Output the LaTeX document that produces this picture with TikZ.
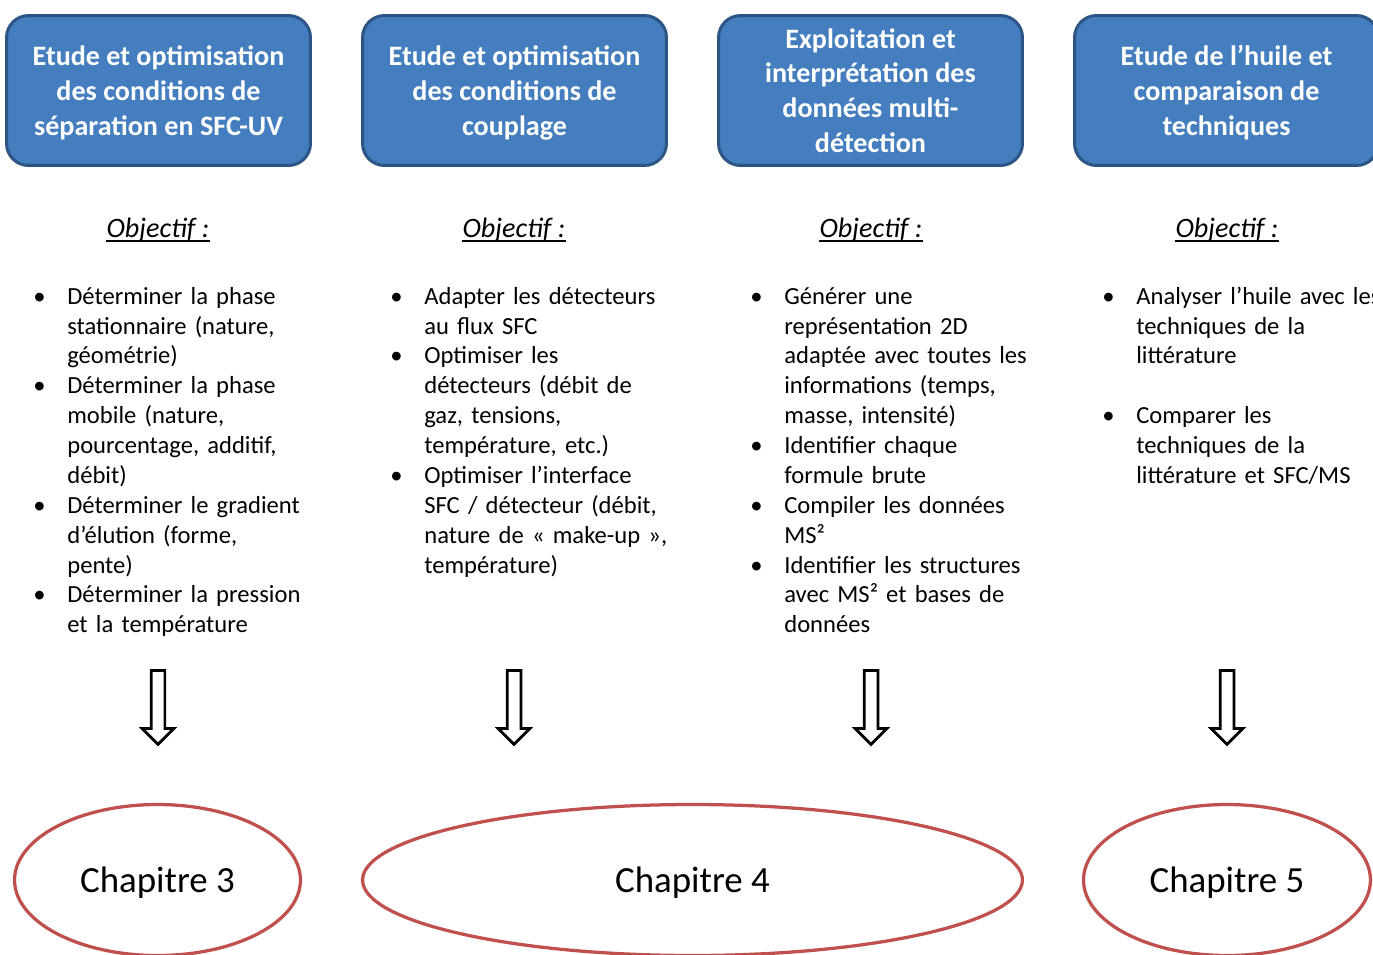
\documentclass[tikz,border=0pt]{standalone}
\usepackage{fontspec}
\setmainfont{Carlito}
\usepackage{enumitem}
\usetikzlibrary{shapes.geometric, shapes.arrows}
\definecolor{boxblue}{RGB}{68,126,190}
\definecolor{boxline}{RGB}{44,84,132}
\definecolor{chapred}{RGB}{192,80,77}
\setlist[itemize]{label=\textbullet, leftmargin=0.68cm, labelindent=0pt,
  labelwidth=0.3cm, labelsep=0.38cm, align=left, topsep=0pt, partopsep=0pt,
  itemsep=0pt, parsep=0pt}

\begin{document}
\begin{tikzpicture}[x=0.02cm, y=-0.02cm,
  topic/.style={rectangle, draw=boxline, fill=boxblue, line width=0.06cm,
                rounded corners=0.44cm, minimum width=6.08cm, minimum height=3cm,
                align=center, text=white, inner sep=0pt, text depth=0pt,
                font=\fontsize{16pt}{19.8pt}\selectfont\bfseries},
  objlbl/.style={anchor=base, inner sep=0pt,
                 font=\fontsize{16pt}{19pt}\selectfont\itshape},
  lst/.style={anchor=north west, text width=6.6cm, inner sep=0pt,
              font=\fontsize{14pt}{17pt}\selectfont},
  downarrow/.style={single arrow, draw, line width=0.055cm, rotate=-90,
                    anchor=tail, minimum height=1.48cm, minimum width=0.58cm,
                    inner xsep=0pt, inner ysep=0.11cm,
                    single arrow head extend=0.18cm},
  chap/.style={ellipse, draw=chapred, fill=white, line width=0.065cm,
               minimum height=3.02cm, inner sep=0pt, text depth=0pt,
               font=\fontsize{21pt}{25pt}\selectfont}
]
  \useasboundingbox (0,0) rectangle (1373,954);

  \node[topic] (t1) at (158.5,90.5)
    {Etude et optimisation\\ des conditions de\\ séparation en SFC-UV};
  \node[topic] (t2) at (514.5,90.5)
    {Etude et optimisation\\ des conditions de\\ couplage};
  \node[topic] (t3) at (870.5,90.5)
    {Exploitation et\\ interprétation des\\ données multi-\\ détection};
  \node[topic] (t4) at (1226.5,90.5)
    {Etude de l’huile et\\ comparaison de\\ techniques};

  \node[objlbl] (o1) at (158,237) {Objectif :};
  \node[objlbl] (o2) at (514,237) {Objectif :};
  \node[objlbl] (o3) at (871,237) {Objectif :};
  \node[objlbl] (o4) at (1227,237) {Objectif :};
  \foreach \o in {o1,o2,o3,o4}
    \draw[line width=0.035cm] ([yshift=-0.08cm]\o.base west)
      -- ([yshift=-0.08cm]\o.base east);

  \node[lst] (l1) at (33,274) {\begin{itemize}
    \item Déterminer la phase\\ stationnaire (nature,\\ géométrie)
    \item Déterminer la phase\\ mobile (nature,\\ pourcentage, additif,\\ débit)
    \item Déterminer le gradient\\ d’élution (forme,\\ pente)
    \item Déterminer la pression\\ et la température
  \end{itemize}};
  \node[lst] (l2) at (390,274) {\begin{itemize}
    \item Adapter les détecteurs\\ au flux SFC
    \item Optimiser les\\ détecteurs (débit de\\ gaz, tensions,\\ température, etc.)
    \item Optimiser l’interface\\ SFC / détecteur (débit,\\ nature de « make-up »,\\ température)
  \end{itemize}};
  \node[lst] (l3) at (750,274) {\begin{itemize}
    \item Générer une\\ représentation 2D\\ adaptée avec toutes les\\ informations (temps,\\ masse, intensité)
    \item Identifier chaque\\ formule brute
    \item Compiler les données\\ MS²
    \item Identifier les structures\\ avec MS² et bases de\\ données
  \end{itemize}};
  \node[lst] (l4) at (1102,274) {\begin{itemize}
    \item Analyser l’huile avec les\\ techniques de la\\ littérature\vspace{17pt}
    \item Comparer les\\ techniques de la\\ littérature et SFC/MS
  \end{itemize}};

  \node[downarrow] (a1) at (158,669) {};
  \node[downarrow] (a2) at (514,669) {};
  \node[downarrow] (a3) at (871,669) {};
  \node[downarrow] (a4) at (1227,669) {};

  \node[chap, minimum width=5.72cm] (c3) at (157.5,880) {Chapitre 3};
  \node[chap, minimum width=13.2cm] (c4) at (692.5,880) {Chapitre 4};
  \node[chap, minimum width=5.74cm] (c5) at (1227,880) {Chapitre 5};
\end{tikzpicture}
\end{document}
